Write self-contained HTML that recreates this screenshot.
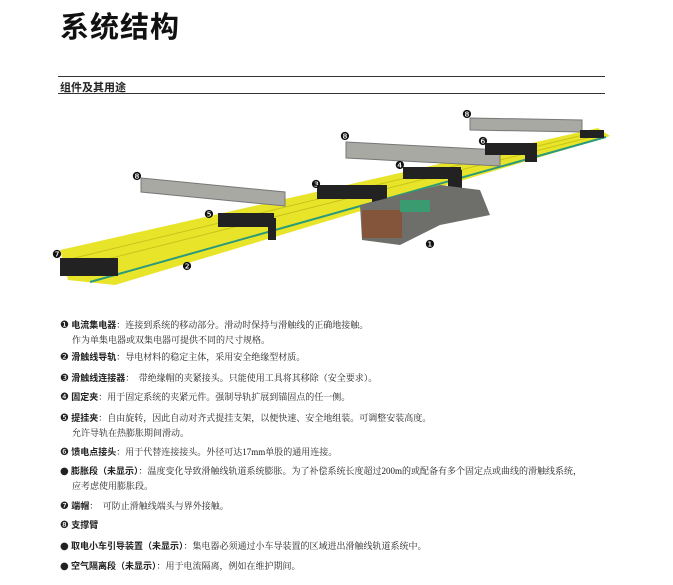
<!DOCTYPE html>
<html><head><meta charset="utf-8"><style>
body{margin:0;width:673px;height:585px;background:#fff;position:relative;overflow:hidden;font-family:"Liberation Serif","Noto Serif CJK SC","Noto Sans CJK SC",serif;color:#222}
.t{position:absolute;left:60px;top:4px;font:bold 29px "Liberation Sans","Noto Sans CJK SC",sans-serif;color:#111;letter-spacing:1px}
.h{position:absolute;left:60px;top:79px;font:bold 11px "Liberation Sans","Noto Sans CJK SC",sans-serif}
.l1{position:absolute;left:58px;top:76px;width:547px;border-top:1px solid #333}
.l2{position:absolute;left:58px;top:93px;width:547px;border-top:1px solid #333}
.p{position:absolute;left:60px;font-size:9px;line-height:14px;white-space:nowrap}
.p b{font-family:"Noto Sans CJK SC",sans-serif;font-weight:bold}
.n{font-family:"DejaVu Sans",sans-serif;font-size:10px}
.in{padding-left:12px}
</style></head><body>
<div class="t">系统结构</div>
<div class="l1"></div><div class="h">组件及其用途</div><div class="l2"></div>
<svg style="position:absolute;left:0;top:0" width="673" height="300">
<polygon points="60,250 598,128 610,136 115,285 68,280" fill="#e8e42a"/>
<polyline points="90,282 606,137" stroke="#2a9a7a" stroke-width="2" fill="none"/>
<polyline points="66,260 600,131" stroke="#c8c41a" stroke-width="1" fill="none"/>
<polyline points="72,268 603,134" stroke="#c8c41a" stroke-width="1" fill="none"/>
<!-- end caps -->
<rect x="60" y="258" width="58" height="18" fill="#222"/>
<!-- beams -->
<polygon points="141,178 285,192 285,206 141,192" fill="#a9a9a4" stroke="#777"/>
<polygon points="346,142 500,150 500,166 346,158" fill="#a9a9a4" stroke="#777"/>
<polygon points="470,118 582,120 582,132 470,130" fill="#a9a9a4" stroke="#777"/>
<rect x="218" y="213" width="56" height="14" fill="#222"/><rect x="268" y="218" width="8" height="22" fill="#222"/>
<rect x="317" y="185" width="70" height="14" fill="#222"/><rect x="372" y="188" width="14" height="24" fill="#222"/>
<rect x="403" y="167" width="58" height="12" fill="#222"/><rect x="448" y="170" width="14" height="18" fill="#222"/>
<rect x="485" y="143" width="52" height="12" fill="#222"/><rect x="525" y="146" width="12" height="16" fill="#222"/>
<rect x="580" y="130" width="24" height="8" fill="#222"/>
<!-- collector -->
<polygon points="360,205 440,185 480,190 490,215 440,225 400,245 362,240" fill="#6e6e6a"/>
<rect x="362" y="210" width="40" height="28" fill="#8a4f30" opacity=".8"/>
<rect x="400" y="200" width="30" height="12" fill="#3a9a70"/>
<g fill="#111" font-family="DejaVu Sans" font-size="11">
<text x="132" y="180">❽</text><text x="204" y="218">❺</text><text x="52" y="258">❼</text><text x="182" y="270">❷</text><text x="311" y="188">❸</text><text x="340" y="140">❽</text><text x="395" y="169">❹</text><text x="478" y="145">❻</text><text x="462" y="118">❽</text><text x="425" y="248">❶</text>
</g></svg>
<div class="p" style="top:318px"><span class="n">❶</span> <b>电流集电器</b>：连接到系统的移动部分。滑动时保持与滑触线的正确地接触。<br><span class="in">作为单集电器或双集电器可提供不同的尺寸规格。</span></div>
<div class="p" style="top:350px"><span class="n">❷</span> <b>滑触线导轨</b>：导电材料的稳定主体，采用安全绝缘型材质。</div>
<div class="p" style="top:371px"><span class="n">❸</span> <b>滑触线连接器</b>：　带绝缘帽的夹紧接头。只能使用工具将其移除（安全要求）。</div>
<div class="p" style="top:390px"><span class="n">❹</span> <b>固定夹</b>：用于固定系统的夹紧元件。强制导轨扩展到锚固点的任一侧。</div>
<div class="p" style="top:411px"><span class="n">❺</span> <b>提挂夹</b>：自由旋转，因此自动对齐式提挂支架，以便快速、安全地组装。可调整安装高度。<br><span class="in">允许导轨在热膨胀期间滑动。</span></div>
<div class="p" style="top:445px"><span class="n">❻</span> <b>馈电点接头</b>：用于代替连接接头。外径可达17mm单股的通用连接。</div>
<div class="p" style="top:464px"><span class="n">●</span> <b>膨胀段（未显示）</b>：温度变化导致滑触线轨道系统膨胀。为了补偿系统长度超过200m的或配备有多个固定点或曲线的滑触线系统，<br><span class="in">应考虑使用膨胀段。</span></div>
<div class="p" style="top:499px"><span class="n">❼</span> <b>端帽</b>：　可防止滑触线端头与界外接触。</div>
<div class="p" style="top:518px"><span class="n">❽</span> <b>支撑臂</b></div>
<div class="p" style="top:539px"><span class="n">●</span> <b>取电小车引导装置（未显示）</b>：集电器必须通过小车导装置的区域进出滑触线轨道系统中。</div>
<div class="p" style="top:559px"><span class="n">●</span> <b>空气隔离段（未显示）</b>：用于电流隔离，例如在维护期间。</div>
</body></html>
